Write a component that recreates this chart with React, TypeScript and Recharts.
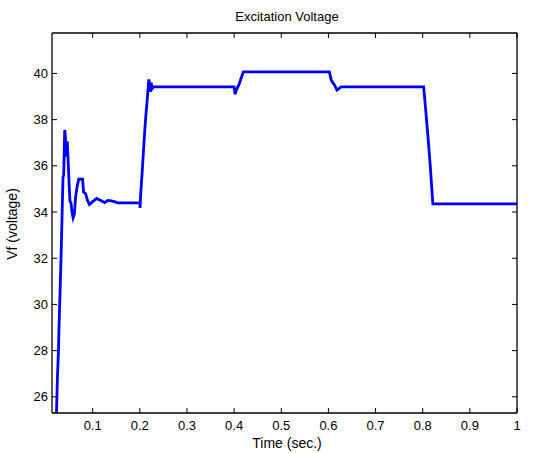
import React from 'react';
import { LineChart, Line, XAxis, YAxis } from 'recharts';

const timeValues: number[] = [
  0.0232, 0.0253, 0.0274, 0.0288, 0.0309, 0.0336, 0.0357, 0.037, 0.0385, 0.0395,
  0.0407, 0.042, 0.044, 0.046, 0.048, 0.050, 0.0517, 0.054, 0.056, 0.0585,
  0.061, 0.064, 0.067, 0.0703, 0.0786, 0.0807, 0.085, 0.089, 0.0931, 0.100,
  0.1083, 0.117, 0.1257, 0.132, 0.1394, 0.146, 0.1533, 0.2, 0.2005, 0.2017,
  0.2052, 0.2087, 0.212, 0.2156, 0.219, 0.2205, 0.2224, 0.224, 0.2265, 0.2295,
  0.40, 0.402, 0.405, 0.41, 0.415, 0.4195, 0.602, 0.606, 0.613, 0.618,
  0.627, 0.802, 0.806, 0.811, 0.816, 0.8215, 1.0,
];
const voltageValues: number[] = [
  25.3, 26.87, 28.0, 29.19, 30.6, 32.57, 34.4, 35.5, 35.6, 36.5,
  37.55, 37.3, 36.4, 37.06, 36.2, 35.2, 34.48, 34.4, 34.0, 33.75,
  33.9, 34.7, 35.1, 35.42, 35.42, 34.86, 34.8, 34.5, 34.33, 34.45,
  34.59, 34.5, 34.41, 34.5, 34.48, 34.45, 34.4, 34.4, 34.18, 34.73,
  35.8, 36.97, 37.98, 38.84, 39.74, 39.6, 39.2, 39.6, 39.35, 39.42,
  39.42, 39.09, 39.3, 39.5, 39.8, 40.07, 40.07, 39.71, 39.49, 39.28,
  39.42, 39.42, 38.5, 37.3, 36.0, 34.35, 34.35,
];
const xTicks: number[] = [0.1, 0.2, 0.3, 0.4, 0.5, 0.6, 0.7, 0.8, 0.9, 1];
const yTicks: number[] = [26, 28, 30, 32, 34, 36, 38, 40];

const data = timeValues.map((t, i) => ({ t, v: voltageValues[i] }));

const FONT = '"Liberation Sans", Arial, Helvetica, sans-serif';
const TL = 5;

const BottomTick = (p: any) => {
  const { x, y, payload } = p;
  return (
    <g>
      <line x1={x} y1={y} x2={x} y2={y - TL} stroke="#000" strokeWidth={1} />
      <text x={x} y={y + 17} textAnchor="middle" fontSize={13} fontFamily={FONT} fill="#000">
        {String(payload.value)}
      </text>
    </g>
  );
};
const TopTick = (p: any) => {
  const { x, y } = p;
  return <line x1={x} y1={y} x2={x} y2={y + TL} stroke="#000" strokeWidth={1} />;
};
const LeftTick = (p: any) => {
  const { x, y, payload } = p;
  return (
    <g>
      <line x1={x} y1={y} x2={x + TL} y2={y} stroke="#000" strokeWidth={1} />
      <text x={x - 4} y={y + 4.5} textAnchor="end" fontSize={13} fontFamily={FONT} fill="#000">
        {String(payload.value)}
      </text>
    </g>
  );
};
const RightTick = (p: any) => {
  const { x, y } = p;
  return <line x1={x} y1={y} x2={x - TL} y2={y} stroke="#000" strokeWidth={1} />;
};

export default function App() {
  return (
    <div style={{ position: 'absolute', left: 0, top: 0, width: 534, height: 453, background: '#fff', fontFamily: FONT }}>
      <LineChart width={534} height={453} data={data} margin={{ top: 32, right: 16, bottom: 0, left: 0 }}>
        <XAxis
          xAxisId="b"
          dataKey="t"
          type="number"
          domain={[0.0137, 1]}
          ticks={xTicks}
          interval={0}
          allowDataOverflow
          height={40}
          tickSize={0}
          tickMargin={0}
          tickLine={false}
          axisLine={{ stroke: '#000', strokeWidth: 1.3 }}
          tick={<BottomTick />}
        />
        <XAxis
          xAxisId="t"
          orientation="top"
          dataKey="t"
          type="number"
          domain={[0.0137, 1]}
          ticks={xTicks}
          interval={0}
          allowDataOverflow
          height={1}
          tickSize={0}
          tickMargin={0}
          tickLine={false}
          axisLine={{ stroke: '#000', strokeWidth: 1.3 }}
          tick={<TopTick />}
        />
        <YAxis
          yAxisId="l"
          type="number"
          domain={[25.3, 41.75]}
          ticks={yTicks}
          interval={0}
          allowDataOverflow
          width={52}
          tickSize={0}
          tickMargin={0}
          tickLine={false}
          axisLine={{ stroke: '#000', strokeWidth: 1.3 }}
          tick={<LeftTick />}
        />
        <YAxis
          yAxisId="r"
          orientation="right"
          type="number"
          domain={[25.3, 41.75]}
          ticks={yTicks}
          interval={0}
          allowDataOverflow
          width={1}
          tickSize={0}
          tickMargin={0}
          tickLine={false}
          axisLine={{ stroke: '#000', strokeWidth: 1.3 }}
          tick={<RightTick />}
        />
        <Line
          xAxisId="b"
          yAxisId="l"
          type="linear"
          dataKey="v"
          stroke="#0000ff"
          strokeWidth={2.8}
          dot={false}
          isAnimationActive={false}
        />
      </LineChart>
      <div style={{ position: 'absolute', left: 0, width: 534, top: 9, textAlign: 'center', paddingLeft: 40, boxSizing: 'border-box', fontSize: 13, color: '#000' }}>
        Excitation Voltage
      </div>
      <div style={{ position: 'absolute', left: 0, width: 534, top: 435, textAlign: 'center', paddingLeft: 40, boxSizing: 'border-box', fontSize: 14, lineHeight: '16px', color: '#000' }}>
        Time (sec.)
      </div>
      <div style={{ position: 'absolute', left: 12, top: 224, width: 0, height: 0 }}>
        <div style={{ position: 'absolute', transform: 'translate(-50%, -50%) rotate(-90deg)', whiteSpace: 'nowrap', fontSize: 14, color: '#000' }}>
          Vf (voltage)
        </div>
      </div>
    </div>
  );
}
